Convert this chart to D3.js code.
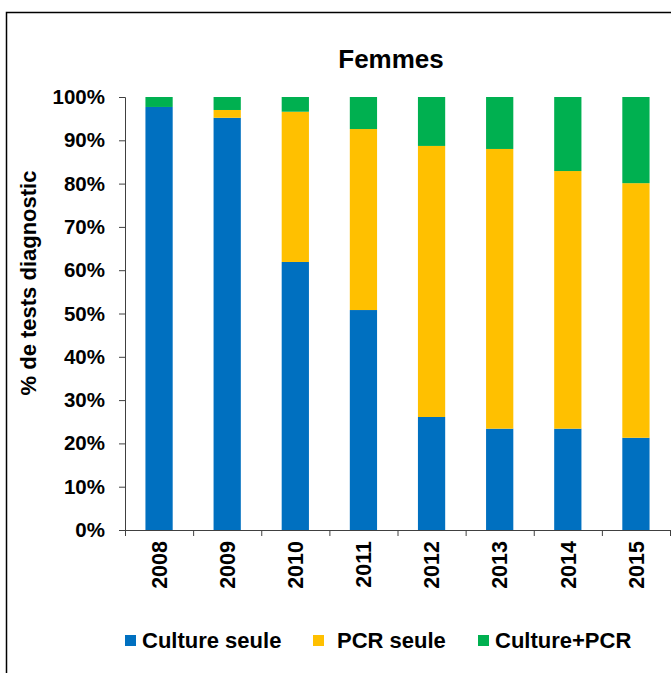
<!DOCTYPE html>
<html>
<head>
<meta charset="utf-8">
<script src="https://cdn.jsdelivr.net/npm/d3@7.9.0/dist/d3.min.js"></script>
<style>
  body { margin: 0; background: #fff; }
  svg { display: block; font-family: 'Liberation Sans', Arial, sans-serif; font-weight: bold; }
</style>
</head>
<body>
<svg id="chart" width="671" height="673"></svg>
<script>
const years = ['2008', '2009', '2010', '2011', '2012', '2013', '2014', '2015'];
const cultureSeule = [97.7, 95.2, 61.9, 50.8, 26.1, 23.4, 23.4, 21.3];
const pcrSeule = [0, 1.8, 34.7, 41.8, 62.6, 64.6, 59.5, 58.8];
const culturePcr = [2.3, 3.0, 3.4, 7.4, 11.3, 12.0, 17.1, 19.9];
const seriesNames = ['Culture seule', 'PCR seule', 'Culture+PCR'];
const seriesColors = ['#0070C0', '#FFC000', '#00B050'];
const yTicks = [0, 10, 20, 30, 40, 50, 60, 70, 80, 90, 100];

const svg = d3.select('#chart');
const plotLeft = 125, plotRight = 670, plotTop = 97, plotBottom = 530;

// frame round the whole chart (runs off the right and bottom)
svg.append('rect')
  .attr('x', 6.5).attr('y', 12.5)
  .attr('width', 720).attr('height', 720)
  .attr('fill', 'none').attr('stroke', '#000').attr('stroke-width', 1.5);

const x = d3.scaleBand().domain(years).range([plotLeft, plotRight])
  .paddingInner(0.6).paddingOuter(0.3);
const y = d3.scaleLinear().domain([0, 100]).range([plotBottom, plotTop]);

const rows = years.map((yr, i) => ({
  year: yr,
  'Culture seule': cultureSeule[i],
  'PCR seule': pcrSeule[i],
  'Culture+PCR': culturePcr[i]
}));
const stacked = d3.stack().keys(seriesNames)(rows);

stacked.forEach((layer, k) => {
  svg.append('g')
    .selectAll('rect')
    .data(layer)
    .join('rect')
    .attr('x', (d) => x(d.data.year))
    .attr('width', x.bandwidth())
    .attr('y', (d) => y(d[1]))
    .attr('height', (d) => y(d[0]) - y(d[1]))
    .attr('fill', seriesColors[k]);
});

// y axis
const yAxis = svg.append('g')
  .attr('transform', `translate(${plotLeft},0)`)
  .call(d3.axisLeft(y).tickValues(yTicks).tickSize(6).tickPadding(14)
    .tickFormat((d) => d + '%'));
yAxis.select('.domain').attr('stroke', '#404040');
yAxis.selectAll('.tick line').attr('stroke', '#404040');
yAxis.selectAll('text')
  .attr('fill', '#000')
  .style('font-size', '20.5px')
  .style('font-family', "'Liberation Sans', Arial, sans-serif")
  .style('font-weight', 'bold');

// x axis: ticks sit between the categories
const step = x.step();
const xAxis = svg.append('g');
xAxis.append('line')
  .attr('x1', plotLeft).attr('x2', plotRight)
  .attr('y1', plotBottom + 0.5).attr('y2', plotBottom + 0.5)
  .attr('stroke', '#404040');
const bounds = d3.range(years.length + 1).map((i) => plotLeft + i * step);
xAxis.selectAll('line.tk')
  .data(bounds)
  .join('line')
  .attr('class', 'tk')
  .attr('x1', (d) => d + 0.5).attr('x2', (d) => d + 0.5)
  .attr('y1', plotBottom).attr('y2', plotBottom + 6)
  .attr('stroke', '#404040');
xAxis.selectAll('text')
  .data(years)
  .join('text')
  .attr('transform', (d) => `translate(${x(d) + x.bandwidth() / 2},541) rotate(-90)`)
  .attr('text-anchor', 'end')
  .attr('dy', '0.36em')
  .style('font-size', '21.5px')
  .text((d) => d);

// title
svg.append('text')
  .attr('x', 391).attr('y', 68)
  .attr('text-anchor', 'middle')
  .style('font-size', '26px')
  .text('Femmes');

// y axis title
svg.append('text')
  .attr('transform', 'translate(36,283) rotate(-90)')
  .attr('text-anchor', 'middle')
  .style('font-size', '22px')
  .text('% de tests diagnostic');

// legend
const legendX = [125, 313, 478];
const legend = svg.append('g');
seriesNames.forEach((name, i) => {
  legend.append('rect')
    .attr('x', legendX[i]).attr('y', 635)
    .attr('width', 11).attr('height', 11)
    .attr('fill', seriesColors[i]);
  legend.append('text')
    .attr('x', legendX[i] + (i === 1 ? 24 : 17)).attr('y', 648)
    .style('font-size', '22px')
    .text(name);
});
</script>
</body>
</html>
